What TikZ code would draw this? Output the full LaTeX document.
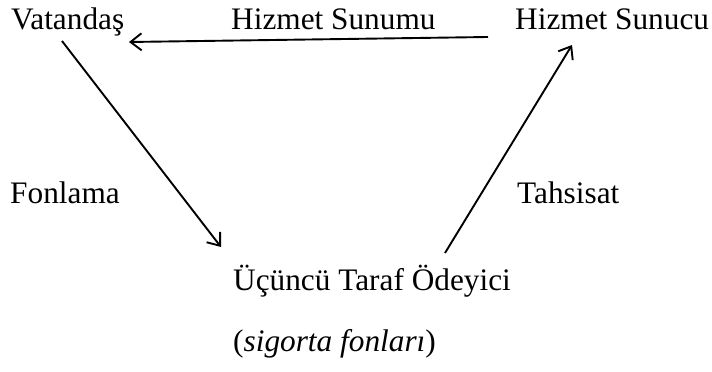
\documentclass[tikz,border=0pt]{standalone}
\usepackage{fontspec}
\setmainfont{Liberation Serif}
\usetikzlibrary{arrows.meta}
\begin{document}
\begin{tikzpicture}[x=1pt,y=-1pt,
  lbl/.style={anchor=base west,inner sep=0pt,font=\fontsize{31.3}{36}\selectfont},
  flow/.style={line width=1.9pt,-{Straight Barb[length=11pt,width=17pt,line width=1.9pt]}}]
\useasboundingbox (0,0) rectangle (712,372);
% labels
\node[lbl] (vat) at (11,29) {Vatandaş};
\node[lbl] (sunum) at (231,29) {Hizmet Sunumu};
\node[lbl] (sunucu) at (515,29) {Hizmet Sunucu};
\node[lbl] (fon) at (10,203) {Fonlama};
\node[lbl] (tah) at (517,203) {Tahsisat};
\node[lbl] (ode) at (233,290) {Üçüncü Taraf Ödeyici};
\node[lbl] (sig) at (233,351) {(\textit{sigorta fonları})};
% arrow end points
\coordinate (a1) at (488,37);
\coordinate (a2) at (129,42);
\coordinate (b1) at (62,41);
\coordinate (b2) at (221,247);
\coordinate (c1) at (445,253);
\coordinate (c2) at (572,45);
% arrows
\draw[flow] (a1) -- (a2);
\draw[flow] (b1) -- (b2);
\draw[flow] (c1) -- (c2);
\end{tikzpicture}
\end{document}
